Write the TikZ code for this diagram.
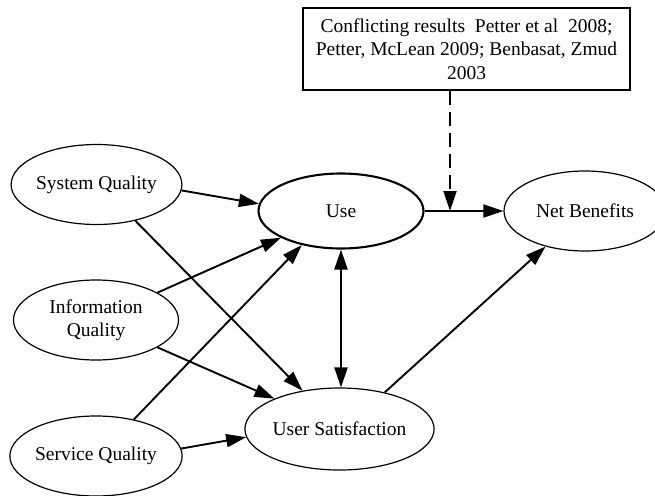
\documentclass[tikz,border=0pt]{standalone}
\usepackage{fontspec}
\setmainfont{Liberation Serif}
\usetikzlibrary{shapes.geometric,arrows.meta}
\begin{document}
\begin{tikzpicture}[x=1pt,y=-1pt,
  every node/.style={font=\fontsize{19.5pt}{23.5pt}\selectfont},
  oval/.style={draw,ellipse,line width=1.2pt,inner sep=0pt,minimum width=165pt,minimum height=80pt,align=center},
  arr/.style={line width=1.9pt,-{Triangle[length=20pt,width=13pt]}},
  dbl/.style={line width=2.2pt,{Triangle[length=20pt,width=13pt]}-{Triangle[length=20pt,width=13pt]}}
]
\useasboundingbox (0,0) rectangle (655,495);
\node[oval] (sys) at (96.5,184.5) {System Quality};
\node[oval] (info) at (96,320) {Information\\Quality};
\node[oval] (serv) at (96,456) {Service Quality};
\node[oval,line width=2.1pt,minimum height=75pt] (use) at (341,211) {Use};
\node[oval,minimum width=162pt,minimum height=82pt] (us) at (339.5,429) {User Satisfaction};
\node[oval,minimum width=162pt] (nb) at (585,211) {Net Benefits};
\node[draw,line width=1.2pt,minimum width=327pt,minimum height=82pt,inner sep=0pt,align=center] (box) at (466.5,49)
  {Conflicting results\ \ Petter et al\ \ 2008;\\Petter, McLean 2009; Benbasat, Zmud\\2003};
\coordinate (j) at (450,211);

\draw[arr] (sys.-4) -- (use.175.5);
\draw[arr] (sys.-43) -- (us.134);
\draw[arr] (info.24) -- (use.-156);
\draw[arr] (info.-24) -- (us.155.6);
\draw[arr] (serv.44) -- (use.-139.5);
\draw[arr] (serv.5.6) -- (us.185.7);
\draw[dbl] (use.south) -- (use.south |- us.north);
\draw[arr] (us.39.6) -- (nb.-138);
\draw[arr] (use.east) -- (nb.west);
\draw[line width=1.9pt,dash pattern=on 14pt off 7pt,-{Triangle[length=20pt,width=13pt]}] (box.south -| j) -- (j);
\end{tikzpicture}
\end{document}
